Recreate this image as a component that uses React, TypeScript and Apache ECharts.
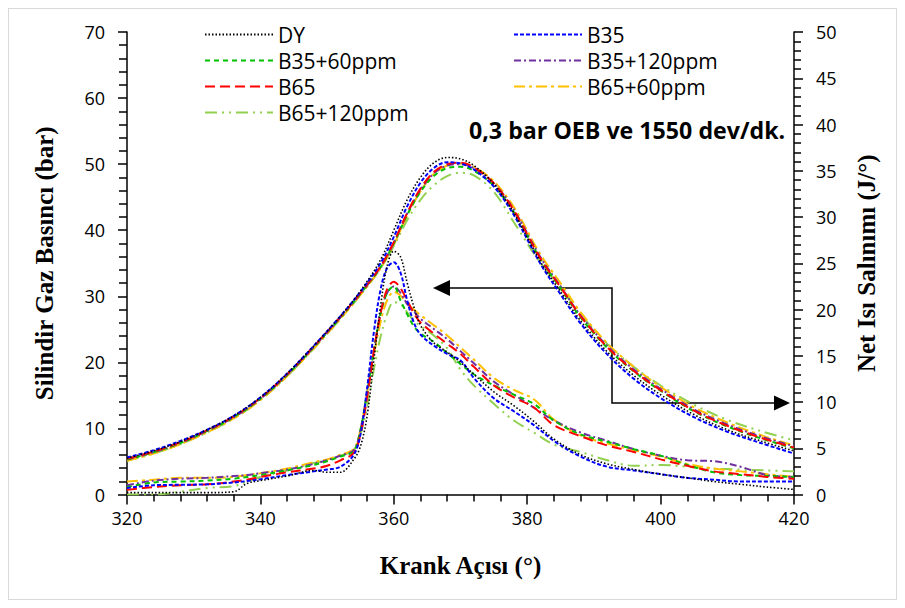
import React, { useEffect, useRef } from "react";
import * as echarts from "echarts";

// ---- data ----
const seriesNames = ["DY", "B35", "B35+60ppm", "B35+120ppm", "B65", "B65+60ppm", "B65+120ppm"];
const legendLeft = ["DY", "B35+60ppm", "B65", "B65+120ppm"];
const legendRight = ["B35", "B35+120ppm", "B65+60ppm"];

const xTicks = [320, 340, 360, 380, 400, 420];

// cylinder pressure (bar), left axis
const anglesP = [320, 324, 328, 332, 336, 340, 344, 348, 352, 355, 358, 360, 362, 364, 366, 368, 370, 372, 375, 378, 382, 385, 388, 392, 396, 400, 405, 410, 415, 420];
const pDY = [5.5, 6.6, 8.0, 9.8, 11.9, 14.7, 18.3, 22.5, 27.0, 30.8, 35.5, 40.0, 44.6, 48.0, 50.2, 51.0, 50.8, 49.8, 47.0, 42.6, 35.2, 30.7, 26.3, 21.6, 18.0, 15.1, 12.1, 9.8, 8.1, 6.6];
const pB35 = [5.6, 6.7, 8.1, 9.8, 11.9, 14.7, 18.3, 22.5, 27.0, 30.7, 35.0, 39.0, 43.6, 47.2, 49.4, 50.3, 50.1, 49.2, 46.6, 42.3, 34.9, 30.3, 25.9, 21.2, 17.5, 14.6, 11.7, 9.5, 7.8, 6.2];
const pB35_60 = [5.3, 6.4, 7.8, 9.6, 11.7, 14.5, 18.1, 22.3, 26.8, 30.4, 34.4, 38.0, 42.3, 45.8, 48.2, 49.4, 49.6, 49.0, 46.7, 42.7, 35.6, 31.2, 26.8, 22.2, 18.6, 15.7, 12.6, 10.3, 8.5, 7.0];
const pB35_120 = [5.3, 6.4, 7.8, 9.6, 11.7, 14.5, 18.1, 22.3, 26.8, 30.4, 34.4, 38.1, 42.5, 46.1, 48.6, 49.8, 50.0, 49.4, 47.1, 43.1, 35.9, 31.5, 27.1, 22.5, 18.9, 16.0, 12.9, 10.6, 8.8, 7.3];
const pB65 = [5.4, 6.5, 7.9, 9.7, 11.8, 14.6, 18.2, 22.4, 26.9, 30.5, 34.5, 38.2, 42.6, 46.3, 48.8, 50.0, 50.2, 49.5, 47.1, 43.0, 35.7, 31.4, 27.0, 22.3, 18.7, 15.8, 12.7, 10.4, 8.6, 7.1];
const pB65_60 = [5.1, 6.2, 7.6, 9.4, 11.5, 14.3, 17.9, 22.1, 26.6, 30.2, 34.2, 37.8, 42.2, 45.9, 48.5, 49.8, 50.1, 49.6, 47.4, 43.5, 36.3, 32.0, 27.6, 22.9, 19.3, 16.3, 13.2, 10.9, 9.0, 7.4];
const pB65_120 = [5.1, 6.2, 7.6, 9.4, 11.5, 14.3, 17.9, 22.1, 26.6, 30.2, 34.2, 37.6, 41.5, 44.6, 46.8, 48.2, 48.7, 48.3, 45.8, 41.2, 35.0, 31.4, 27.3, 22.8, 19.3, 16.5, 13.6, 11.3, 9.6, 8.2];

// net heat release (J/deg), right axis
const anglesQ = [320, 324, 328, 332, 336, 338, 340, 344, 348, 350, 352, 354, 355, 356, 357, 358, 359, 360, 361, 362, 363, 364, 366, 368, 370, 372, 375, 378, 381, 384, 388, 392, 396, 400, 404, 408, 412, 416, 420];
const qDY = [0.2, 0.2, 0.2, 0.2, 0.3, 1.2, 1.5, 2.0, 2.6, 2.4, 2.4, 3.8, 5.2, 8.5, 14.5, 20.3, 24.7, 26.3, 25.7, 22.9, 20.3, 18.3, 16.4, 15.4, 14.3, 13.0, 11.1, 9.6, 7.9, 6.0, 4.3, 3.3, 2.7, 2.2, 1.8, 1.4, 1.1, 0.8, 0.55];
const qB35 = [0.7, 1.0, 1.05, 1.1, 1.3, 1.45, 1.65, 2.1, 2.5, 2.7, 3.0, 4.3, 6.5, 11.5, 17.5, 22.1, 24.5, 25.1, 24.0, 21.0, 18.6, 17.3, 16.1, 15.2, 14.5, 12.6, 10.4, 9.0, 7.5, 5.8, 4.1, 3.0, 2.6, 2.2, 1.8, 1.6, 1.4, 1.4, 1.4];
const qB35_60 = [0.8, 1.3, 1.4, 1.5, 1.7, 1.9, 2.1, 2.6, 3.2, 3.6, 4.1, 4.7, 7.0, 11.0, 15.5, 19.5, 21.8, 22.5, 21.0, 19.5, 18.2, 17.4, 16.5, 15.3, 14.1, 13.0, 11.8, 10.8, 9.8, 8.0, 6.5, 5.7, 4.9, 4.2, 3.2, 2.4, 2.1, 2.0, 1.9];
const qB35_120 = [1.0, 1.5, 1.7, 1.8, 2.0, 2.1, 2.3, 2.7, 3.3, 3.7, 4.2, 4.8, 7.0, 11.0, 15.5, 19.5, 21.8, 22.5, 21.8, 20.6, 19.8, 19.0, 17.9, 16.8, 15.5, 14.2, 12.2, 10.8, 9.4, 8.0, 6.7, 5.8, 4.9, 4.2, 3.7, 3.6, 3.0, 2.1, 1.9];
const qB65 = [0.5, 0.8, 1.0, 1.1, 1.4, 1.6, 1.9, 2.4, 2.8, 3.1, 3.7, 4.5, 6.5, 10.5, 15.5, 19.5, 22.2, 23.0, 22.3, 21.0, 19.6, 18.6, 17.4, 16.3, 15.2, 13.8, 11.8, 10.5, 9.4, 7.5, 6.3, 5.3, 4.6, 3.8, 3.1, 2.5, 2.2, 1.9, 1.7];
const qB65_60 = [1.4, 1.6, 1.8, 1.8, 1.9, 2.1, 2.3, 2.8, 3.5, 3.8, 4.3, 4.9, 7.0, 11.0, 15.0, 18.6, 21.0, 21.9, 21.5, 20.6, 20.0, 19.4, 18.3, 17.2, 15.9, 14.6, 12.6, 11.3, 10.3, 8.1, 6.4, 5.5, 4.8, 4.1, 3.3, 2.8, 2.5, 2.2, 1.9];
const qB65_120 = [0.0, 0.0, 0.3, 0.7, 0.9, 1.4, 1.9, 2.6, 3.4, 3.7, 4.2, 4.8, 6.5, 9.5, 13.5, 17.0, 19.5, 20.8, 20.6, 19.7, 18.8, 18.2, 17.2, 15.8, 13.5, 11.8, 9.8, 8.0, 6.7, 5.4, 4.6, 3.7, 3.1, 3.2, 3.0, 2.8, 2.7, 2.6, 2.5];

const pressureByName: Record<string, number[]> = {
  "DY": pDY, "B35": pB35, "B35+60ppm": pB35_60, "B35+120ppm": pB35_120,
  "B65": pB65, "B65+60ppm": pB65_60, "B65+120ppm": pB65_120,
};
const heatByName: Record<string, number[]> = {
  "DY": qDY, "B35": qB35, "B35+60ppm": qB35_60, "B35+120ppm": qB35_120,
  "B65": qB65, "B65+60ppm": qB65_60, "B65+120ppm": qB65_120,
};

// ---- styles ----
const lineStyles: Record<string, { color: string; type: any; width: number }> = {
  "DY": { color: "#000000", type: [1.5, 2], width: 1.6 },
  "B35": { color: "#0000ff", type: [4, 2], width: 2 },
  "B35+60ppm": { color: "#00c000", type: [5, 4], width: 2 },
  "B35+120ppm": { color: "#7030a0", type: [7, 3, 2, 3], width: 2 },
  "B65": { color: "#ff0000", type: [10, 5], width: 2 },
  "B65+60ppm": { color: "#ffc000", type: [11, 4, 3, 4], width: 2 },
  "B65+120ppm": { color: "#92d050", type: [12, 5, 2, 5, 2, 5], width: 2 },
};

const TICK_FONT = "'Open Sans', 'Noto Sans', sans-serif";
const TITLE_FONT = "'Liberation Serif', 'DejaVu Serif', serif";

function buildOption() {
  const series: any[] = [];
  const drawOrder = ["B65+120ppm", "B65+60ppm", "B35+120ppm", "B35+60ppm", "B65", "B35", "DY"];
  drawOrder.forEach((name) => {
    const st = lineStyles[name];
    const common = {
      type: "line",
      name,
      symbol: "none",
      smooth: 0.35,
      lineStyle: { color: st.color, type: st.type, width: st.width },
      itemStyle: { color: st.color },
      emphasis: { disabled: true },
      silent: true,
    };
    series.push({ ...common, yAxisIndex: 0, data: anglesP.map((a, i) => [a, pressureByName[name][i]]) });
    series.push({ ...common, yAxisIndex: 1, data: anglesQ.map((a, i) => [a, heatByName[name][i]]) });
  });

  const legendBase = {
    orient: "vertical",
    itemWidth: 68,
    itemHeight: 14,
    itemGap: 5,
    selectedMode: false,
    itemStyle: { opacity: 0 },
    textStyle: { fontFamily: TICK_FONT, fontSize: 21, color: "#000", lineHeight: 21 },
  };

  return {
    animation: false,
    backgroundColor: "#ffffff",
    grid: { left: 118, right: 102, top: 23, bottom: 104.5, containLabel: false },
    legend: [
      { ...legendBase, left: 190, top: 10, data: legendLeft },
      { ...legendBase, left: 499, top: 10, data: legendRight },
    ],
    xAxis: {
      type: "value",
      min: xTicks[0],
      max: xTicks[xTicks.length - 1],
      interval: 20,
      name: "Krank Açısı (°)",
      nameLocation: "middle",
      nameGap: 58,
      nameTextStyle: { fontFamily: TITLE_FONT, fontWeight: "bold", fontSize: 25, color: "#000" },
      axisLine: { show: true, onZero: false, lineStyle: { color: "#000", width: 1.5 } },
      axisTick: { show: true, inside: false, length: 10, lineStyle: { color: "#000", width: 1.5 } },
      minorTick: { show: true, splitNumber: 5, length: 7, lineStyle: { color: "#000", width: 1.5 } },
      axisLabel: { fontFamily: TICK_FONT, fontSize: 18, color: "#000", margin: 14 },
      splitLine: { show: false },
    },
    yAxis: [
      {
        type: "value",
        position: "left",
        min: 0,
        max: 70,
        interval: 10,
        name: "Silindir Gaz Basıncı (bar)",
        nameLocation: "middle",
        nameRotate: 90,
        nameGap: 70,
        nameTextStyle: { fontFamily: TITLE_FONT, fontWeight: "bold", fontSize: 25, color: "#000" },
        axisLine: { show: true, lineStyle: { color: "#000", width: 1.5 } },
        axisTick: { show: true, inside: false, length: 9, lineStyle: { color: "#000", width: 1.5 } },
        minorTick: { show: true, splitNumber: 5, length: 8, lineStyle: { color: "#000", width: 1.5 } },
        axisLabel: { fontFamily: TICK_FONT, fontSize: 18, color: "#000", margin: 22 },
        splitLine: { show: false },
      },
      {
        type: "value",
        position: "right",
        min: 0,
        max: 50,
        interval: 5,
        name: "Net Isı Salınımı (J/°)",
        nameLocation: "middle",
        nameRotate: 90,
        nameGap: 60,
        nameTextStyle: { fontFamily: TITLE_FONT, fontWeight: "bold", fontSize: 25, color: "#000" },
        axisLine: { show: true, lineStyle: { color: "#000", width: 1.5 } },
        axisTick: { show: true, inside: false, length: 9, lineStyle: { color: "#000", width: 1.5 } },
        minorTick: { show: true, splitNumber: 5, length: 7, lineStyle: { color: "#000", width: 1.5 } },
        axisLabel: { fontFamily: TICK_FONT, fontSize: 18, color: "#000", margin: 22 },
        splitLine: { show: false },
      },
    ],
    graphic: [
      {
        type: "text",
        left: 460,
        top: 109,
        style: {
          text: "0,3 bar OEB ve 1550 dev/dk.",
          font: "bold 23.2px 'Open Sans', sans-serif",
          fill: "#000",
        },
        silent: true,
      },
      {
        type: "polyline",
        shape: { points: [[441, 279], [603, 279], [603, 394], [766, 394]] },
        style: { stroke: "#000", lineWidth: 1.5, fill: null },
        silent: true,
      },
      {
        type: "polygon",
        shape: { points: [[424, 279], [441, 271], [441, 287]] },
        style: { fill: "#000" },
        silent: true,
      },
      {
        type: "polygon",
        shape: { points: [[781, 394], [765, 386.5], [765, 401.5]] },
        style: { fill: "#000" },
        silent: true,
      },
    ],
    series,
  };
}

export default function App() {
  const ref = useRef<HTMLDivElement>(null);
  useEffect(() => {
    if (!ref.current) return;
    const chart = echarts.init(ref.current, null, { renderer: "svg" });
    chart.setOption(buildOption() as any);
    return () => chart.dispose();
  }, []);
  return (
    <div style={{ width: 889, height: 592, border: "1px solid #d9d9d9", boxSizing: "border-box", background: "#fff" }}>
      <div ref={ref} style={{ width: 887, height: 590 }} />
    </div>
  );
}
